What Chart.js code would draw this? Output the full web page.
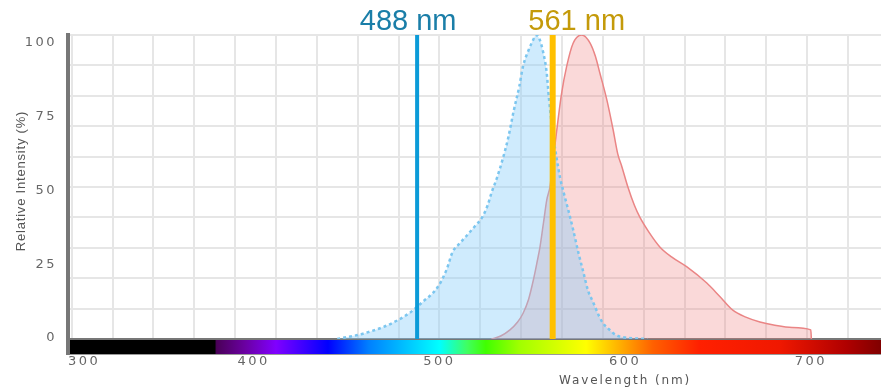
<!DOCTYPE html>
<html><head><meta charset="utf-8">
<script src="https://cdn.jsdelivr.net/npm/chart.js@4/dist/chart.umd.min.js"></script>
<style>html,body{margin:0;padding:0;background:#fff;overflow:hidden;}</style>
</head><body>
<canvas id="c" width="881" height="392"></canvas>
<script>
// ---- data ----
const exWavelength = [445,450,456,463,470,477,484,491,499,504,507,511,515,519,523,526,528,531,534,537,540,543,545,548,550.5,552,554,556,557.7,559,561,563,565,567,570,572,575,577.5,580,583,586,588,592,595,600,605,612];
const exIntensity  = [0,0.6,1.3,2.5,4,6,8.6,12.2,17,23,28.5,31.5,34.2,37,40,44,48,53,59,66,75,83,89.6,95,98.4,100,98.5,94,88,79,68,60,53,48,41,36,28,22,16,11.8,7.5,5.3,2.8,1.3,0.5,0.2,0];
const emWavelength = [528,533,538,542,545,548,550.6,552.5,554.2,556,557.8,559.5,561.5,563,565.8,568.5,572,576.6,581,584,586.4,590.2,593.5,596,598.3,601.5,605,608,613,618.7,625,633.3,644,651,658,665,672.6,680,690,700,700.3];
const emIntensity  = [0,1,3,5.5,8.4,13,19.4,25,30.4,38,45.7,50,60,67.7,80.8,89.6,97.3,100,97.5,93,87.5,78.6,69,61,56.6,50,44,40,35,30.3,27,23.7,18.4,14,9.5,7.2,5.6,4.6,3.8,3,0];
const laserWavelengths = [488, 561];
const laserLabels = ['488 nm', '561 nm'];
const xTickLabels = [300, 400, 500, 600, 700];
const yTickLabels = [0, 25, 50, 75, 100];
const xTitle = 'Wavelength (nm)';
const yTitle = 'Relative Intensity (%)';

// ---- styling / layout constants ----
const X_MIN = 300, X_MAX = 737.8;
const GRID_X_START = 302, GRID_X_STEP = 22;
const spectrumStops = [[300,'#000000'],[379,'#000000'],[380,'#4a0058'],[395,'#6a00a0'],[412,'#8000ff'],[440,'#0000ff'],[462,'#0080ff'],[500,'#00ffff'],[515,'#40ff60'],[525,'#40ff00'],[543,'#a0ff00'],[579,'#ffff00'],[597,'#ffb000'],[615,'#ff6000'],[640,'#ff2000'],[683,'#f01800'],[719,'#b00000'],[738,'#800000']];
const laserColors = ['#0b9bd8', '#ffc000'];
const laserTextColors = ['#1a7ea8', '#c49a0a'];
const laserLabelOffsets = [-9, 24];

const toPts = (xs, ys) => xs.map((x, i) => ({x, y: ys[i]}));

const decor = {
  id: 'decor',
  beforeDraw(chart) { chart.ctx.letterSpacing = '2.5px'; },
  beforeDatasetsDraw(chart) { chart.ctx.letterSpacing = '0px'; },
  afterDraw(chart) {
    const {ctx, chartArea: a, scales} = chart;
    const xs = scales.x;
    ctx.save();
    ctx.letterSpacing = '0px';
    // spectrum bar
    const y0 = a.bottom + 1, h = 14;
    const g = ctx.createLinearGradient(a.left, 0, a.right, 0);
    spectrumStops.forEach(([wl, c]) => {
      const off = (xs.getPixelForValue(wl) - a.left) / (a.right - a.left);
      g.addColorStop(Math.min(1, Math.max(0, off)), c);
    });
    ctx.fillStyle = g;
    ctx.fillRect(a.left, y0, a.right - a.left, h);
    ctx.fillStyle = '#9a9a9a';
    ctx.fillRect(a.left, y0 + h, a.right - a.left, 1);
    ctx.fillStyle = '#777';
    ctx.fillRect(a.left - 2, a.bottom - 1, 4, h + 3);
    // laser labels
    ctx.font = '29px "Liberation Sans", Arial, sans-serif';
    ctx.textAlign = 'center';
    ctx.textBaseline = 'alphabetic';
    laserWavelengths.forEach((wl, i) => {
      ctx.fillStyle = laserTextColors[i];
      ctx.fillText(laserLabels[i], xs.getPixelForValue(wl) + laserLabelOffsets[i], 29.5);
    });
    // axis titles
    ctx.fillStyle = '#555';
    ctx.font = '12px "DejaVu Sans", sans-serif';
    ctx.letterSpacing = '1.9px';
    ctx.textBaseline = 'middle';
    ctx.fillText(xTitle, xs.getPixelForValue(600), 381);
    ctx.font = '13px "Liberation Sans", Arial, sans-serif';
    ctx.letterSpacing = '0.8px';
    ctx.translate(21, 181);
    ctx.rotate(-Math.PI / 2);
    ctx.fillText(yTitle, 0, 0);
    ctx.restore();
  }
};

const laserSets = laserWavelengths.map((wl, i) => ({
  data: [{x: wl, y: 0}, {x: wl, y: 100}],
  borderColor: laserColors[i], borderWidth: i === 0 ? 4 : 6,
  pointRadius: 0, fill: false, yAxisID: 'yd', xAxisID: 'x'
}));

new Chart(document.getElementById('c'), {
  type: 'line',
  data: {
    datasets: [
      ...laserSets,
      {
        data: toPts(exWavelength, exIntensity),
        borderColor: '#7cc6ef', borderWidth: 2.5, borderDash: [3, 3],
        backgroundColor: 'rgba(135,206,250,0.40)', fill: 'origin',
        pointRadius: 0, cubicInterpolationMode: 'monotone', yAxisID: 'yd', xAxisID: 'x'
      },
      {
        data: toPts(emWavelength, emIntensity),
        borderColor: '#ea8585', borderWidth: 1.5,
        backgroundColor: 'rgba(240,128,128,0.30)', fill: 'origin',
        pointRadius: 0, cubicInterpolationMode: 'monotone', yAxisID: 'yd', xAxisID: 'x'
      }
    ]
  },
  options: {
    responsive: false, animation: false, devicePixelRatio: 1,
    layout: {padding: {top: 35, right: 0, bottom: 0, left: 0}},
    plugins: {legend: {display: false}, tooltip: {enabled: false}},
    scales: {
      x: {
        type: 'linear', position: 'bottom', min: X_MIN, max: X_MAX,
        grid: {display: true, drawOnChartArea: false, drawTicks: true, tickLength: 15, color: 'rgba(0,0,0,0)'},
        border: {display: true, color: '#777', width: 2},
        afterBuildTicks: (s) => { s.ticks = [...xTickLabels, X_MAX].map(v => ({value: v})); },
        ticks: {
          autoSkip: false, maxRotation: 0, align: 'inner', padding: 0,
          color: '#666', font: {family: '"DejaVu Sans", sans-serif', size: 13},
          callback: (v) => xTickLabels.includes(v) ? String(v) : ''
        },
        afterFit: (s) => { s.height = 53; }
      },
      xg: {
        type: 'linear', position: 'bottom', min: X_MIN, max: X_MAX,
        grid: {display: true, color: '#e6e6e6', lineWidth: 2, drawTicks: false},
        border: {display: false},
        ticks: {display: false},
        afterBuildTicks: (s) => {
          const t = [];
          for (let v = GRID_X_START; v <= X_MAX; v += GRID_X_STEP) t.push({value: v});
          s.ticks = t;
        },
        afterFit: (s) => { s.height = 0; }
      },
      y: {
        type: 'linear', position: 'left', min: -0.34, max: 102.7,
        grid: {display: false},
        border: {display: true, color: '#777', width: 4},
        afterBuildTicks: (s) => { s.ticks = yTickLabels.map(v => ({value: v})); },
        ticks: {
          padding: 3, color: '#666', font: {family: '"DejaVu Sans", sans-serif', size: 13},
          callback: (v) => String(v)
        },
        afterFit: (s) => { s.width = 68; }
      },
      yd: {
        type: 'linear', position: 'left', min: 0, max: 100,
        grid: {display: true, color: '#e6e6e6', lineWidth: 2, drawTicks: false},
        border: {display: false},
        ticks: {display: false, stepSize: 10},
        afterFit: (s) => { s.width = 0; }
      }
    }
  },
  plugins: [decor]
});
</script>
</body></html>
